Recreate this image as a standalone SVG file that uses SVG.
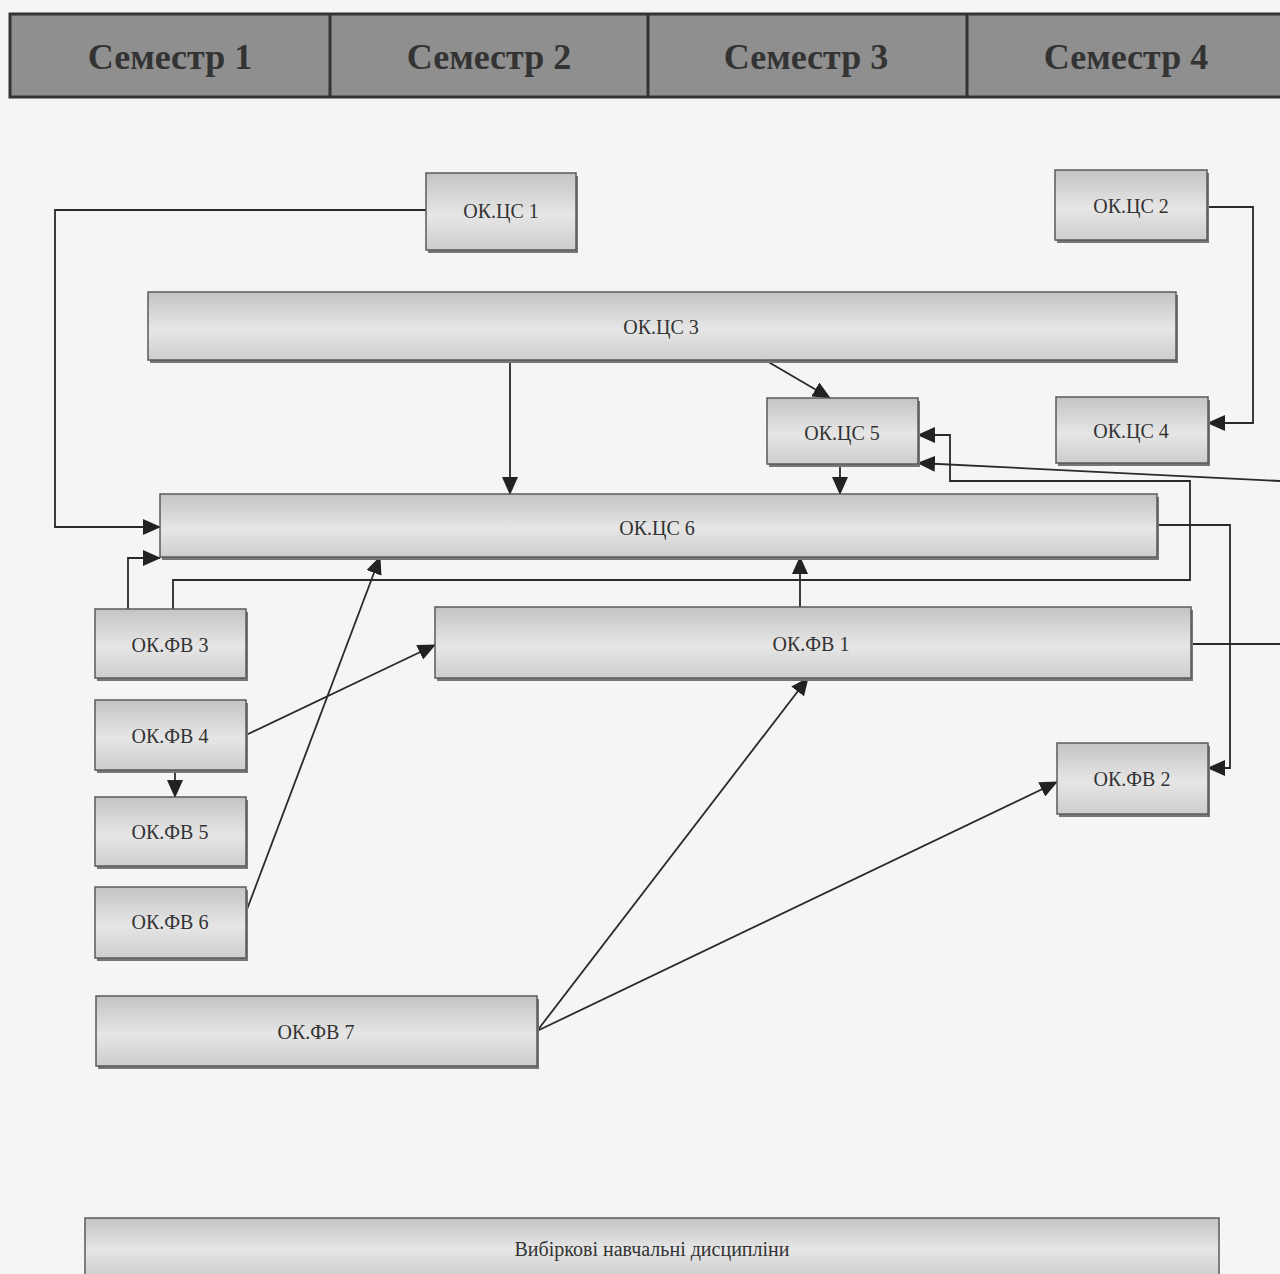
<svg xmlns="http://www.w3.org/2000/svg" width="1280" height="1274" viewBox="0 0 1280 1274">
<defs>
<linearGradient id="g" x1="0" y1="0" x2="0" y2="1">
<stop offset="0" stop-color="#c4c4c4"/>
<stop offset="0.55" stop-color="#e6e6e6"/>
<stop offset="1" stop-color="#cdcdcd"/>
</linearGradient>
<marker id="a" markerWidth="18" markerHeight="16" refX="17" refY="8" orient="auto" markerUnits="userSpaceOnUse">
<path d="M0,0 L18,8 L0,16 Z" fill="#222"/>
</marker>
</defs>
<style>
.hdr{fill:#8f8f8f;stroke:#333;stroke-width:3}
.ht{font-family:"Liberation Serif",serif;font-weight:bold;font-size:36px;fill:#333;text-anchor:middle}
.sh{fill:#777}
.bx{fill:url(#g);stroke:#5a5a5a;stroke-width:1.5}
.t{font-family:"Liberation Serif",serif;font-size:20px;fill:#333;text-anchor:middle;dominant-baseline:central}
.c{fill:none;stroke:#2a2a2a;stroke-width:1.8}
.c.ar{marker-end:url(#a)}
</style>
<rect width="1280" height="1274" fill="#f5f5f7"/>
<g id="header">
<rect class="hdr" x="10" y="14" width="1280" height="83"/>
<line x1="330" y1="14" x2="330" y2="97" stroke="#333" stroke-width="3"/>
<line x1="648" y1="14" x2="648" y2="97" stroke="#333" stroke-width="3"/>
<line x1="967" y1="14" x2="967" y2="97" stroke="#333" stroke-width="3"/>
<text class="ht" x="170" y="69">Семестр 1</text>
<text class="ht" x="489" y="69">Семестр 2</text>
<text class="ht" x="806" y="69">Семестр 3</text>
<text class="ht" x="1126" y="69">Семестр 4</text>
</g>
<g id="connectors">
<polyline class="c ar" points="426,210 55,210 55,527 160,527"/>
<polyline class="c ar" points="1207,207 1253,207 1253,423 1208,423"/>
<polyline class="c ar" points="510,360 510,494"/>
<polyline class="c ar" points="765,360 830,398"/>
<polyline class="c ar" points="840,464 840,494"/>
<polyline class="c ar" points="1157,525 1230,525 1230,768 1208,768"/>
<polyline class="c ar" points="173,609 173,580 1190,580 1190,481 950,481 950,435 918,435"/>
<polyline class="c ar" points="128,609 128,558 160,558"/>
<polyline class="c ar" points="1280,481 918,463"/>
<polyline class="c" points="1191,644 1280,644"/>
<polyline class="c ar" points="800,607 800,557"/>
<polyline class="c ar" points="246,735 435,645"/>
<polyline class="c ar" points="175,770 175,797"/>
<polyline class="c ar" points="246,912 380,557"/>
<polyline class="c ar" points="537,1031 808,678"/>
<polyline class="c ar" points="537,1031 1057,782"/>
</g>
<g id="n_cs1"><rect class="sh" x="428" y="176" width="150" height="77"/><rect class="bx" x="426" y="173" width="150" height="77"/><text class="t" x="501" y="211">ОК.ЦС 1</text></g>
<g id="n_cs2"><rect class="sh" x="1057" y="173" width="152" height="70"/><rect class="bx" x="1055" y="170" width="152" height="70"/><text class="t" x="1131" y="206">ОК.ЦС 2</text></g>
<g id="n_cs3"><rect class="sh" x="150" y="295" width="1028" height="68"/><rect class="bx" x="148" y="292" width="1028" height="68"/><text class="t" x="661" y="327">ОК.ЦС 3</text></g>
<g id="n_cs5"><rect class="sh" x="769" y="401" width="151" height="66"/><rect class="bx" x="767" y="398" width="151" height="66"/><text class="t" x="842" y="433">ОК.ЦС 5</text></g>
<g id="n_cs4"><rect class="sh" x="1058" y="400" width="152" height="66"/><rect class="bx" x="1056" y="397" width="152" height="66"/><text class="t" x="1131" y="431">ОК.ЦС 4</text></g>
<g id="n_cs6"><rect class="sh" x="162" y="497" width="997" height="63"/><rect class="bx" x="160" y="494" width="997" height="63"/><text class="t" x="657" y="528">ОК.ЦС 6</text></g>
<g id="n_fv3"><rect class="sh" x="97" y="612" width="151" height="69"/><rect class="bx" x="95" y="609" width="151" height="69"/><text class="t" x="170" y="645">ОК.ФВ 3</text></g>
<g id="n_fv1"><rect class="sh" x="437" y="610" width="756" height="71"/><rect class="bx" x="435" y="607" width="756" height="71"/><text class="t" x="811" y="644">ОК.ФВ 1</text></g>
<g id="n_fv4"><rect class="sh" x="97" y="703" width="151" height="70"/><rect class="bx" x="95" y="700" width="151" height="70"/><text class="t" x="170" y="736">ОК.ФВ 4</text></g>
<g id="n_fv5"><rect class="sh" x="97" y="800" width="151" height="69"/><rect class="bx" x="95" y="797" width="151" height="69"/><text class="t" x="170" y="832">ОК.ФВ 5</text></g>
<g id="n_fv6"><rect class="sh" x="97" y="890" width="151" height="71"/><rect class="bx" x="95" y="887" width="151" height="71"/><text class="t" x="170" y="922">ОК.ФВ 6</text></g>
<g id="n_fv2"><rect class="sh" x="1059" y="746" width="151" height="71"/><rect class="bx" x="1057" y="743" width="151" height="71"/><text class="t" x="1132" y="779">ОК.ФВ 2</text></g>
<g id="n_fv7"><rect class="sh" x="98" y="999" width="441" height="70"/><rect class="bx" x="96" y="996" width="441" height="70"/><text class="t" x="316" y="1032">ОК.ФВ 7</text></g>
<g id="n_vyb"><rect class="bx" x="85" y="1218" width="1134" height="58" stroke="#999"/><text class="t" x="652" y="1249">Вибіркові навчальні дисципліни</text></g>
</svg>
